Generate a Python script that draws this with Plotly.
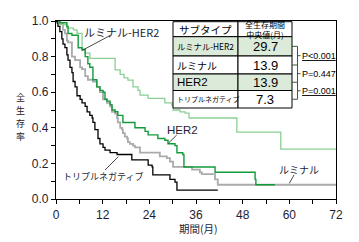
import plotly.graph_objects as go

# ---------------- data ----------------
lh_t = [0, 1.0, 2.8, 4.5, 5.4, 6.7, 7.5, 8.7, 15.2, 16.5, 17.5, 18.5, 19.8, 21.1, 21.6, 23.7,
        28.0, 29.8, 30.1, 31.9, 33.2, 34.2, 46.5, 57.8, 72]
lh_s = [1.0, 0.98, 0.96, 0.95, 0.93, 0.84, 0.82, 0.79, 0.725, 0.70, 0.68, 0.668, 0.63, 0.61, 0.584, 0.565,
        0.54, 0.528, 0.50, 0.49, 0.483, 0.455, 0.376, 0.28, 0.28]

her2_t = [0, 1.0, 2.8, 3.1, 4.1, 5.7, 6.7, 7.5, 8.2, 8.7, 9.5, 10.5, 11.3, 12.1, 12.6, 13.1, 13.9, 14.4,
          15.2, 15.9, 17.2, 20.3, 22.9, 23.7, 26.2, 28.0, 28.8, 30.6, 31.1, 32.6, 32.9, 40.9, 51.2, 51.4, 56.3]
her2_s = [1.0, 0.99, 0.97, 0.93, 0.92, 0.85, 0.84, 0.80, 0.76, 0.74, 0.67, 0.63, 0.61, 0.60, 0.56, 0.55, 0.53, 0.50,
          0.49, 0.47, 0.43, 0.40, 0.38, 0.36, 0.34, 0.33, 0.31, 0.30, 0.26, 0.25, 0.18, 0.15, 0.11, 0.08, 0.08]

lum_t = [0, 1.0, 1.8, 2.3, 2.8, 3.1, 4.1, 4.9, 6.2, 6.7, 7.5, 8.2, 9.5, 10.5, 11.3, 12.1, 13.1, 13.9, 14.4,
         15.2, 15.7, 15.9, 16.5, 17.0, 17.2, 17.7, 18.3, 18.5, 19.0, 19.8, 20.3, 21.6, 26.7, 28.5, 29.3, 30.1,
         35.0, 37.0, 37.5, 40.9, 41.6, 72]
lum_s = [1.0, 0.99, 0.95, 0.93, 0.89, 0.88, 0.80, 0.78, 0.74, 0.73, 0.69, 0.67, 0.66, 0.63, 0.60, 0.56, 0.54, 0.52, 0.49,
         0.48, 0.455, 0.43, 0.40, 0.39, 0.37, 0.35, 0.34, 0.32, 0.31, 0.30, 0.29, 0.26, 0.24, 0.23, 0.21, 0.18,
         0.165, 0.15, 0.14, 0.11, 0.08, 0.08]

tn_t = [0, 0.3, 0.5, 1.0, 1.5, 1.8, 2.3, 2.8, 3.1, 3.6, 4.1, 4.4, 4.9, 5.4, 6.2, 6.7, 7.5, 8.0, 8.7, 9.3,
        9.5, 10.0, 10.8, 11.3, 12.1, 12.6, 13.9, 15.7, 19.5, 23.7, 24.7, 24.9, 29.3, 30.6, 31.1, 41.6]
tn_s = [1.0, 0.99, 0.97, 0.94, 0.90, 0.87, 0.85, 0.81, 0.78, 0.74, 0.71, 0.66, 0.63, 0.58, 0.56, 0.54, 0.52, 0.49, 0.47, 0.455,
        0.43, 0.39, 0.34, 0.31, 0.29, 0.275, 0.26, 0.25, 0.22, 0.19, 0.18, 0.135, 0.11, 0.095, 0.05, 0.05]

x_ticks = [0, 12, 24, 36, 48, 60, 72]
y_ticks = [0.0, 0.2, 0.4, 0.6, 0.8, 1.0]

subtypes = ["ルミナル-HER2", "ルミナル", "HER2", "トリプルネガティブ"]
medians = ["29.7", "13.9", "13.9", "7.3"]
p_values = ["P<0.001", "P=0.447", "P=0.001"]
p_significant = [True, False, True]

# ---------------- styling ----------------
FONT = "Liberation Sans, Arial, Noto Sans CJK JP"
JFONT = "Noto Sans CJK JP, Liberation Sans"
TXT = "#1e1e30"
C_LH = "#8ccf94"
C_HER2 = "#139a3a"
C_LUM = "#ababab"
C_TN = "#000000"
FILL = "#dcebd9"

W, H = 359, 242
L, R, T, B = 56, 336, 21, 199


def px(x):
    return (x - L) / (R - L)


def py(y):
    return (B - y) / (B - T)


def ann(x, y, text, size, family, color="black", xanchor="center"):
    return dict(x=px(x), y=py(y), xref="paper", yref="paper", xanchor=xanchor, yanchor="middle",
                text=text, showarrow=False, font=dict(family=family, size=size, color=color))


fig = go.Figure()
for t, s, c, w in [(lum_t, lum_s, C_LUM, 1.8), (lh_t, lh_s, C_LH, 1.3),
                   (her2_t, her2_s, C_HER2, 1.4), (tn_t, tn_s, C_TN, 1.3)]:
    fig.add_trace(go.Scatter(x=t, y=s, mode="lines", line=dict(color=c, width=w, shape="hv"),
                             showlegend=False, hoverinfo="skip"))

shapes = []
annotations = []

# table
cols = [173, 238, 292]
rows = [21.7, 36.7, 56, 74, 90.5, 108]
fills = [None, FILL, None, FILL, None]
for i in range(5):
    for j in range(2):
        shapes.append(dict(type="rect", xref="paper", yref="paper",
                           x0=px(cols[j]), x1=px(cols[j + 1]), y0=py(rows[i + 1]), y1=py(rows[i]),
                           fillcolor=fills[i] or "white", line=dict(color="black", width=1), layer="above"))

annotations.append(ann((cols[0] + cols[1]) / 2, (rows[0] + rows[1]) / 2, "サブタイプ", 10.5, JFONT))
annotations.append(ann((cols[1] + cols[2]) / 2, (rows[0] + rows[1]) / 2, "全生存期間<br>中央値(月)", 8, JFONT))
label_sizes = [8.3, 10, 11.5, 7]
for i, (st, md) in enumerate(zip(subtypes, medians)):
    yc = (rows[i + 1] + rows[i + 2]) / 2
    annotations.append(ann(cols[0] + 1.5, yc, st, label_sizes[i], FONT if st == "HER2" else JFONT, xanchor="left"))
    annotations.append(ann((cols[1] + cols[2]) / 2, yc, md, 13, FONT))

# brackets with P values
centers = [(rows[i + 1] + rows[i + 2]) / 2 for i in range(4)]
bx = 297.5
for c in centers:
    shapes.append(dict(type="line", xref="paper", yref="paper", x0=px(cols[2]), x1=px(bx), y0=py(c), y1=py(c),
                       line=dict(color="#3c5a3c", width=1)))
for i, (pv, sig) in enumerate(zip(p_values, p_significant)):
    y0, y1 = centers[i], centers[i + 1]
    shapes.append(dict(type="line", xref="paper", yref="paper", x0=px(bx), x1=px(bx), y0=py(y0), y1=py(y1),
                       line=dict(color="#3c5a3c", width=1)))
    ym = (y0 + y1) / 2
    shapes.append(dict(type="line", xref="paper", yref="paper", x0=px(bx), x1=px(bx + 3), y0=py(ym), y1=py(ym),
                       line=dict(color="#3c5a3c", width=1)))
    annotations.append(ann(bx + 2.5, ym, f"<u>{pv}</u>" if sig else pv, 9, FONT, xanchor="left"))

# curve labels with leader lines (pixel positions)
labels = [
    ("ルミナル-HER2", 121, 32, 11, (81.7, 50.7), (110, 35.5)),
    ("HER2", 182, 130, 11.5, (168.3, 143.3), (176.7, 135)),
    ("トリプルネガティブ", 103, 176, 9, (118.3, 156.7), (105, 170)),
    ("ルミナル", 298.5, 169, 10, (289.3, 183.3), (294, 175)),
]
for text, cx, cy, fs, p0, p1 in labels:
    annotations.append(ann(cx, cy, text, fs, FONT if text == "HER2" else JFONT, color=TXT))
    shapes.append(dict(type="line", xref="paper", yref="paper", x0=px(p0[0]), y0=py(p0[1]),
                       x1=px(p1[0]), y1=py(p1[1]), line=dict(color="#333333", width=0.9)))

# axis titles
for k, ch in enumerate("全生存率"):
    annotations.append(ann(20, 97.5 + k * 13, ch, 9, JFONT, color="#2a2020"))
annotations.append(ann(198, 228, "期間(月)", 10.5, JFONT, color=TXT))

fig.update_layout(
    width=W, height=H,
    margin=dict(l=L, r=W - R, t=T, b=H - B, pad=0, autoexpand=False),
    paper_bgcolor="white", plot_bgcolor="white",
    shapes=shapes, annotations=annotations,
    font=dict(family=FONT, size=12, color=TXT),
    xaxis=dict(range=[0, 72], tickvals=x_ticks, ticktext=[str(v) for v in x_ticks], automargin=False,
               showgrid=False, zeroline=False, showline=True, mirror=True, linecolor="black", linewidth=1.3,
               ticks="outside", ticklen=4, tickwidth=1, tickcolor="black",
               tickfont=dict(family=FONT, size=12, color=TXT),
               minor=dict(dtick=6, tick0=0, ticks="outside", ticklen=4, tickcolor="black", showgrid=False)),
    yaxis=dict(range=[0, 1], tickvals=y_ticks, ticktext=[f"{v:.1f}" for v in y_ticks], automargin=False,
               showgrid=False, zeroline=False, showline=True, mirror=True, linecolor="black", linewidth=1.3,
               ticks="outside", ticklen=4, tickwidth=1, tickcolor="black",
               tickfont=dict(family=FONT, size=12, color=TXT),
               minor=dict(dtick=0.1, tick0=0, ticks="outside", ticklen=4, tickcolor="black", showgrid=False)),
)

fig.write_html("out.html")
